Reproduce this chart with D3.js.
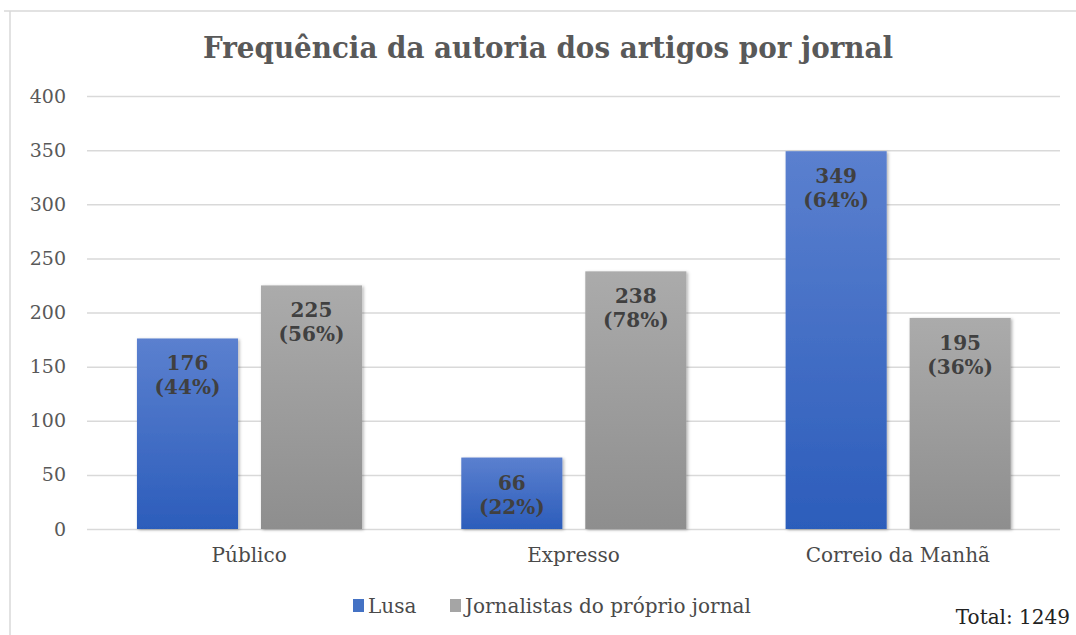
<!DOCTYPE html>
<html><head><meta charset="utf-8">
<script src="https://cdn.jsdelivr.net/npm/d3@7"></script>
<style>
html,body{margin:0;padding:0;background:#fff;}
svg{display:block;}
</style></head>
<body>
<svg id="c" width="1076" height="635"></svg>
<script>
const categories = ["Público", "Expresso", "Correio da Manhã"];
const seriesNames = ["Lusa", "Jornalistas do próprio jornal"];
const lusaValues = [176, 66, 349];
const jornalistasValues = [225, 238, 195];
const lusaPct = ["44%", "22%", "64%"];
const jornalistasPct = ["56%", "78%", "36%"];
const yTicks = [0, 50, 100, 150, 200, 250, 300, 350, 400];
const titleText = "Frequência da autoria dos artigos por jornal";
const totalText = "Total: 1249";

const FONT = "DejaVu Serif, Liberation Serif, serif";
const svg = d3.select("#c").attr("font-family", FONT);
const W = 1076, H = 635;
const m = {left: 87, right: 1060, top: 96, bottom: 529};

// frame
svg.append("line").attr("x1", 4).attr("x2", W).attr("y1", 11).attr("y2", 11).attr("stroke", "#d9d9d9").attr("stroke-width", 1.5);
svg.append("line").attr("x1", 10).attr("x2", 10).attr("y1", 11).attr("y2", H).attr("stroke", "#d9d9d9").attr("stroke-width", 1.5);

const defs = svg.append("defs");
const gB = defs.append("linearGradient").attr("id", "gBlue").attr("x1", 0).attr("y1", 0).attr("x2", 0).attr("y2", 1);
gB.append("stop").attr("offset", "0%").attr("stop-color", "#5b80cf");
gB.append("stop").attr("offset", "100%").attr("stop-color", "#2c5dbb");
const gG = defs.append("linearGradient").attr("id", "gGray").attr("x1", 0).attr("y1", 0).attr("x2", 0).attr("y2", 1);
gG.append("stop").attr("offset", "0%").attr("stop-color", "#ababab");
gG.append("stop").attr("offset", "100%").attr("stop-color", "#8e8e8e");
const f = defs.append("filter").attr("id", "sh").attr("x", "-10%").attr("y", "-10%").attr("width", "130%").attr("height", "130%");
f.append("feDropShadow").attr("dx", 1.5).attr("dy", 1).attr("stdDeviation", 1.5).attr("flood-color", "#000").attr("flood-opacity", 0.3);

const y = d3.scaleLinear().domain([0, 400]).range([m.bottom, m.top]);
const x0 = d3.scaleBand().domain(categories).range([m.left, m.right]);
const bw = x0.bandwidth();
const x1 = d3.scaleBand().domain(seriesNames).range([bw * 0.154, bw * 0.848]).paddingInner(0.185);

// gridlines + y labels
const yAxis = d3.axisLeft(y).tickValues(yTicks).tickSize(-(m.right - m.left)).tickPadding(21);
const ga = svg.append("g").attr("transform", `translate(${m.left},0)`).call(yAxis).attr("font-family", FONT);
ga.select(".domain").remove();
ga.selectAll(".tick line").attr("stroke", "#d9d9d9").attr("stroke-width", 1.5);
ga.selectAll(".tick text").attr("fill", "#595959").attr("font-size", 19);

// x labels
const xAxis = d3.axisBottom(x0).tickSize(0).tickPadding(19);
const gx = svg.append("g").attr("transform", `translate(0,${m.bottom})`).call(xAxis).attr("font-family", FONT);
gx.select(".domain").remove();
gx.selectAll(".tick text").attr("fill", "#4a4a4a").attr("font-size", 20);

const rows = categories.map((c, i) => ({
  cat: c,
  vals: [
    {s: seriesNames[0], v: lusaValues[i], p: lusaPct[i], fill: "url(#gBlue)"},
    {s: seriesNames[1], v: jornalistasValues[i], p: jornalistasPct[i], fill: "url(#gGray)"}
  ]
}));

const grp = svg.selectAll("g.cat").data(rows).join("g").attr("class", "cat")
  .attr("transform", d => `translate(${x0(d.cat)},0)`);
grp.selectAll("rect").data(d => d.vals).join("rect")
  .attr("x", d => x1(d.s)).attr("width", x1.bandwidth())
  .attr("y", d => y(d.v)).attr("height", d => y(0) - y(d.v))
  .attr("fill", d => d.fill).attr("filter", "url(#sh)");

const lab = grp.selectAll("text.lab").data(d => d.vals).join("text").attr("class", "lab")
  .attr("text-anchor", "middle").attr("font-weight", "bold").attr("font-size", 20).attr("fill", "#404040");
lab.append("tspan").attr("x", d => x1(d.s) + x1.bandwidth() / 2).attr("y", d => y(d.v) + 32).text(d => d.v);
lab.append("tspan").attr("x", d => x1(d.s) + x1.bandwidth() / 2).attr("y", d => y(d.v) + 56).text(d => `(${d.p})`);

// title
svg.append("text").attr("x", 548).attr("y", 58).attr("text-anchor", "middle")
  .attr("font-size", 30).attr("font-weight", "bold").attr("fill", "#595959")
  .attr("textLength", 690).attr("lengthAdjust", "spacingAndGlyphs").text(titleText);

// legend
const legColors = ["#4472c4", "#a5a5a5"];
const legX = [353, 450];
const leg = svg.selectAll("g.leg").data(seriesNames).join("g").attr("class", "leg")
  .attr("transform", (d, i) => `translate(${legX[i]},599)`);
leg.append("rect").attr("width", 11).attr("height", 13).attr("y", 0).attr("fill", (d, i) => legColors[i]);
leg.append("text").attr("x", 15).attr("y", 14).attr("font-size", 20).attr("fill", "#4a4a4a").text(d => d);

svg.append("text").attr("x", 1070).attr("y", 624).attr("text-anchor", "end")
  .attr("font-size", 20).attr("fill", "#222").text(totalText);
</script>
</body></html>
